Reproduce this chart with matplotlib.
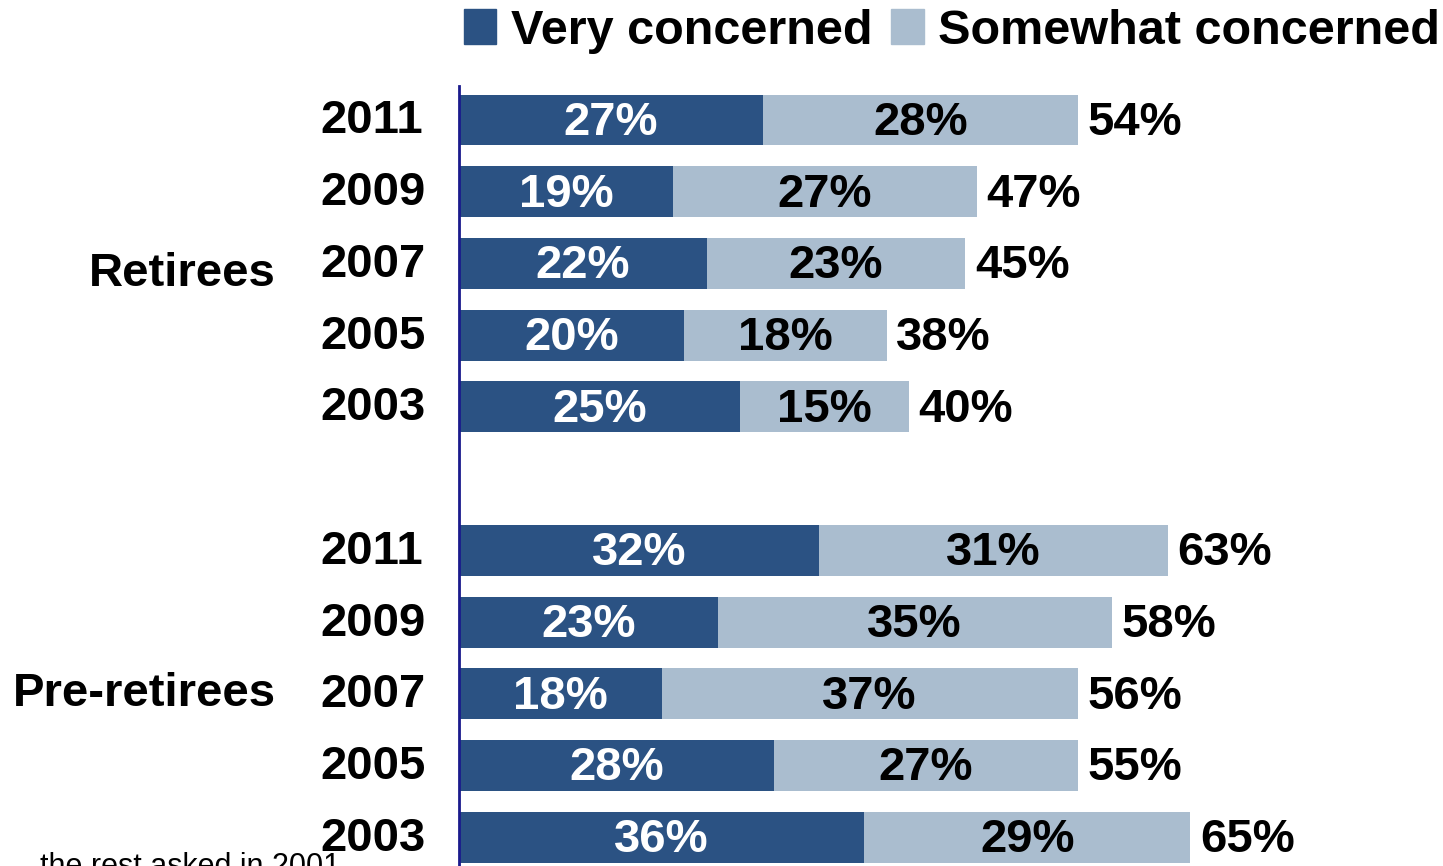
import numpy as np
import matplotlib.pyplot as plt
import matplotlib.transforms as mtransforms
from matplotlib.patches import Patch

plt.rcParams['font.family'] = ['Liberation Sans', 'DejaVu Sans']

#--------------------------------------------
# Data
groups = ["Retirees", "Pre-retirees"]
years = ["2011", "2009", "2007", "2005", "2003"]
very_ret = [27, 19, 22, 20, 25]
some_ret = [28, 27, 23, 18, 15]
total_ret = [54, 47, 45, 38, 40]
very_pre = [32, 23, 18, 28, 36]
some_pre = [31, 35, 37, 27, 29]
total_pre = [63, 58, 56, 55, 65]
legend_labels = ["Very concerned", "Somewhat concerned"]
footnote = "the rest asked in 2001"

dark = "#2B5283"
light = "#AABDCF"
fs = 34

#--------------------------------------------
# Plot
fig = plt.figure(figsize=(14.43, 8.66), dpi=100)
ax = fig.add_axes([459 / 1443, 0, 1 - 459 / 1443, (866 - 86) / 866])

very = very_ret + very_pre
some = some_ret + some_pre
total = total_ret + total_pre
pos = np.r_[np.arange(5), np.arange(6, 11)]

ax.barh(pos, very, height=0.71, color=dark, label=legend_labels[0])
ax.barh(pos, some, left=very, height=0.71, color=light, label=legend_labels[1])

dy = -2  # small downward nudge of text, in points
for y, v, s, t in zip(pos, very, some, total):
    ax.annotate(f"{v}%", (v / 2, y), xytext=(0, dy), textcoords="offset points",
                ha="center", va="center", color="white",
                fontsize=fs, fontweight="bold")
    ax.annotate(f"{s}%", (v + s / 2, y), xytext=(0, dy), textcoords="offset points",
                ha="center", va="center", color="black",
                fontsize=fs, fontweight="bold")
    ax.annotate(f"{t}%", (v + s, y), xytext=(7, dy), textcoords="offset points",
                ha="left", va="center", fontsize=fs, fontweight="bold")

# year labels and group labels
trans = mtransforms.blended_transform_factory(fig.transFigure, ax.transData)
for y, yr in zip(pos, years * 2):
    ax.text(320 / 1443, y + 0.02, yr, transform=trans, ha="left", va="center",
            fontsize=fs, fontweight="bold")
ax.text(276 / 1443, 2.15, groups[0], transform=trans, ha="right", va="center",
        fontsize=fs, fontweight="bold")
ax.text(276 / 1443, 8.0, groups[1], transform=trans, ha="right", va="center",
        fontsize=fs, fontweight="bold")

ax.set_xlim(0, (1443 - 459) / 11.25)
ax.set_ylim(10.40, -0.474)
ax.set_xticks([])
ax.set_yticks([])
for side in ["top", "right", "bottom"]:
    ax.spines[side].set_visible(False)
ax.spines["left"].set_color("#1A1A8C")
ax.spines["left"].set_linewidth(2)

handles = [Patch(color=dark), Patch(color=light)]
fig.legend(handles, legend_labels, loc="center right",
           bbox_to_anchor=(1440 / 1443, 1 - 31 / 866), ncol=2, frameon=False,
           prop={"size": 35, "weight": "bold"}, handlelength=0.66,
           handleheight=0.7, handletextpad=0.3, columnspacing=0.4,
           borderpad=0, borderaxespad=0)

fig.text(40 / 1443, -9 / 866, footnote, ha="left", va="baseline", fontsize=22)

plt.savefig("out.png", dpi=100)
